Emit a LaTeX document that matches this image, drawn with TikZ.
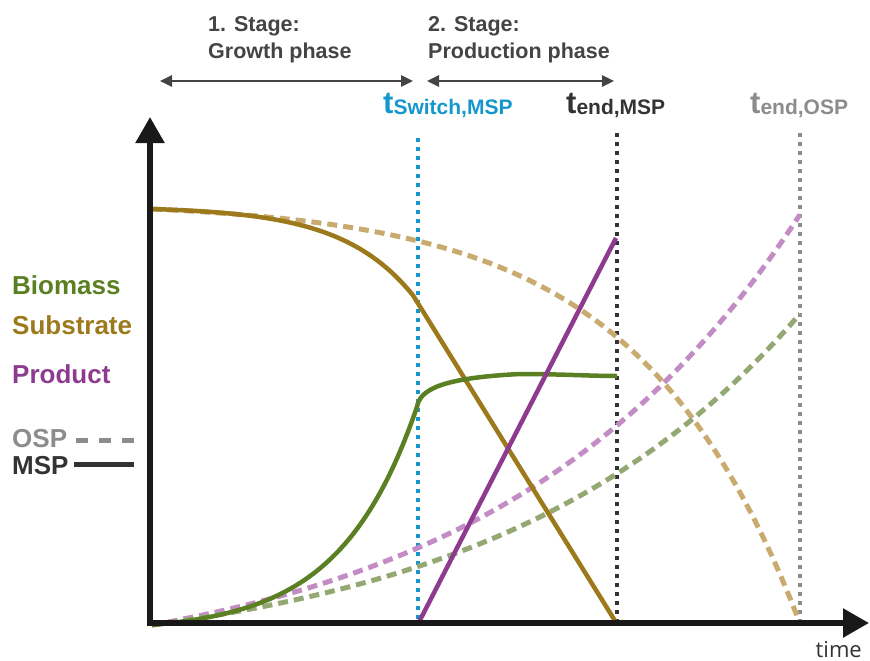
\documentclass[tikz,border=0pt]{standalone}
\usepackage{fontspec}
\setmainfont{Liberation Sans}
\newfontfamily\timefont{Open Sans}
\usetikzlibrary{arrows.meta}
\definecolor{bioS}{HTML}{5B7F23}
\definecolor{bioD}{HTML}{93A873}
\definecolor{subS}{HTML}{9C7A1C}
\definecolor{subD}{HTML}{C9AB70}
\definecolor{proS}{HTML}{8E3B8F}
\definecolor{proD}{HTML}{C48CC4}
\definecolor{tblue}{HTML}{1596CC}
\definecolor{dark}{HTML}{333333}
\definecolor{midgray}{HTML}{8C8C8C}
\definecolor{hdrgray}{HTML}{444444}
\tikzset{
  lbl/.style={font=\bfseries\fontsize{26}{26}\selectfont, anchor=base west, inner sep=0pt},
  stagelbl/.style={font=\bfseries\fontsize{21.5}{25}\selectfont, anchor=base west, inner sep=0pt, text=hdrgray},
  tlbl/.style={anchor=base west, inner sep=0pt, font=\bfseries},
  axisline/.style={line width=5.5pt, black!90, -{Triangle[length=26pt,width=28pt]}},
  hdrarrow/.style={line width=2.5pt, hdrgray, {Triangle[length=12pt,width=11pt]}-{Triangle[length=12pt,width=11pt]}},
  vdot/.style={line width=3.5pt, dash pattern=on 3.5pt off 5.5pt},
  solidcurve/.style={line width=4.5pt, line join=round},
  dashcurve/.style={line width=5pt, dash pattern=on 10pt off 6pt},
}
\newcommand{\tlab}[1]{{\fontsize{31}{31}\selectfont t}\raisebox{-1.5pt}{\fontsize{21}{21}\selectfont #1}}
\begin{document}
\begin{tikzpicture}[x=1pt,y=-1pt]
\useasboundingbox (0,0) rectangle (870,661);
% coordinates
\coordinate (O) at (150,623);
\coordinate (ytip) at (150,117);
\coordinate (xstart) at (147,623);
\coordinate (xtip) at (869,623);
\coordinate (sw1) at (418,138);
\coordinate (sw2) at (418,623);
\coordinate (em1) at (617,133);
\coordinate (em2) at (617,623);
\coordinate (eo1) at (800,133);
\coordinate (eo2) at (800,623);
\coordinate (h1a) at (160,81);
\coordinate (h1b) at (413,81);
\coordinate (h2a) at (427,81);
\coordinate (h2b) at (614,81);
\coordinate (lo1) at (76,440);
\coordinate (lo2) at (134,440);
\coordinate (lm1) at (74,464);
\coordinate (lm2) at (134,464);
\coordinate (pstart) at (418,624);
\coordinate (pend) at (616,238);
\coordinate (send) at (617,624);

% header
\node[stagelbl] (s1a) at (208,32) {1. Stage:};
\node[stagelbl] (s1b) at (208,59) {Growth phase};
\node[stagelbl] (s2a) at (428,32) {2. Stage:};
\node[stagelbl] (s2b) at (428,59) {Production phase};
\draw[hdrarrow] (h1a) -- (h1b);
\draw[hdrarrow] (h2a) -- (h2b);

% time labels
\node[tlbl, text=tblue] (tsw) at (383,113) {\tlab{Switch,MSP}};
\node[tlbl, text=dark] (tem) at (566,113) {\tlab{end,MSP}};
\node[tlbl, text=midgray] (teo) at (750,113) {\tlab{end,OSP}};

% vertical dotted lines
\draw[vdot, tblue] (sw1) -- (sw2);
\draw[vdot, dark] (em1) -- (em2);
\draw[vdot, midgray] (eo1) -- (eo2);

% OSP dashed curves
\draw[dashcurve, subD] plot[domain=152:800, samples=70] (\x, {209 + 7.62*(exp(0.0062*(\x-152))-1)});
\draw[dashcurve, proD] plot[domain=152:800, samples=70] (\x, {625 - 55*(exp(0.0033*(\x-152))-1)});
\draw[dashcurve, bioD] plot[domain=152:800, samples=70] (\x, {625 - 41.7*(exp(0.0033*(\x-152))-1)});

% MSP solid curves
\draw[solidcurve, subS] plot[domain=152:413, samples=60] (\x, {209 + 2.29*(exp(0.014*(\x-152))-1)}) -- (send);
\draw[solidcurve, bioS] plot[domain=152:417, samples=60] (\x, {625 - 7.19*(exp(0.013*(\x-152))-1)})
   .. controls (420,390) and (440,378) .. (520,374) .. controls (560,374) and (590,376) .. (617,376);
\draw[solidcurve, proS] (pstart) -- (pend);

% axes
\draw[axisline] (O) -- (ytip);
\draw[axisline] (xstart) -- (xtip);
\node[anchor=base east, inner sep=0pt, font=\timefont\fontsize{22}{22}\selectfont, text=dark] (time) at (862,657) {time};

% legend
\node[lbl, text=bioS] (lb) at (12,294) {Biomass};
\node[lbl, text=subS] (ls) at (12,334) {Substrate};
\node[lbl, text=proS] (lp) at (12,383) {Product};
\node[lbl, text=midgray] (losp) at (12,447) {OSP};
\node[lbl, text=dark] (lmsp) at (12,474) {MSP};
\draw[line width=5pt, midgray, dash pattern=on 12pt off 11pt] (lo1) -- (lo2);
\draw[line width=5pt, dark] (lm1) -- (lm2);
\end{tikzpicture}
\end{document}
